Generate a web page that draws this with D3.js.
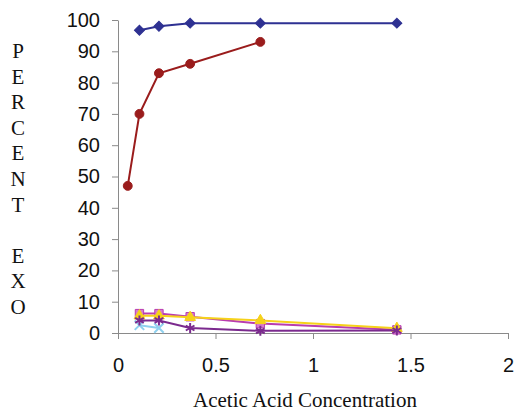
<!DOCTYPE html>
<html>
<head>
<meta charset="utf-8">
<script src="https://cdn.jsdelivr.net/npm/d3@7"></script>
<style>
  html, body { margin: 0; padding: 0; background: #fff; }
  svg { display: block; }
</style>
</head>
<body>
<svg id="chart" width="514" height="413"></svg>
<script>
// ---- data ----
const xTicks = [0, 0.5, 1, 1.5, 2];
const yTicks = [0, 10, 20, 30, 40, 50, 60, 70, 80, 90, 100];
const xTitle = "Acetic Acid Concentration";
const yTitle = "PERCENT EXO";

const navyX = [0.11, 0.21, 0.37, 0.73, 1.43];
const navyY = [96.7, 98, 99, 99, 99];

const magentaX = [0.11, 0.21, 0.37, 0.73, 1.43];
const magentaY = [6.2, 6.2, 5.2, 3, 1];

const yellowX = [0.11, 0.21, 0.37, 0.73, 1.43];
const yellowY = [5.5, 5.5, 5, 4, 1.5];

const cyanX = [0.11, 0.21];
const cyanY = [2.5, 1.6];

const purpleX = [0.11, 0.21, 0.37, 0.73, 1.43];
const purpleY = [4, 4, 1.6, 0.7, 0.8];

const maroonX = [0.05, 0.11, 0.21, 0.37, 0.73];
const maroonY = [47, 70, 83, 86, 93];

// ---- layout ----
const svg = d3.select("#chart");
const x = d3.scaleLinear().domain([0, 2]).range([118, 508]);
const y = d3.scaleLinear().domain([0, 100]).range([333, 20]);

const axisColor = "#8a8a8a";

// y axis
const gy = svg.append("g")
  .attr("transform", `translate(${x(0)},0)`)
  .call(d3.axisLeft(y).tickValues(yTicks).tickSize(6).tickPadding(12).tickSizeOuter(0));
// x axis
const gx = svg.append("g")
  .attr("transform", `translate(0,${y(0)})`)
  .call(d3.axisBottom(x).tickValues(xTicks).tickFormat(d3.format("")).tickSize(6).tickPadding(19).tickSizeOuter(0));

[gx, gy].forEach(g => {
  g.select(".domain").attr("stroke", axisColor).attr("stroke-width", 1);
  g.selectAll(".tick line").attr("stroke", axisColor).attr("stroke-width", 1);
  g.selectAll(".tick text")
    .attr("fill", "#111")
    .style("font-family", "'Liberation Sans', Arial, sans-serif")
    .style("font-size", "20px");
});

// titles
svg.append("text")
  .attr("x", 305).attr("y", 407)
  .attr("text-anchor", "middle")
  .style("font-family", "'Liberation Serif', 'Times New Roman', serif")
  .style("font-size", "21px")
  .attr("fill", "#111")
  .text(xTitle);

const yt = svg.append("text")
  .attr("text-anchor", "middle")
  .style("font-family", "'Liberation Serif', 'Times New Roman', serif")
  .style("font-size", "21px")
  .attr("fill", "#111");
yTitle.split("").forEach((ch, i) => {
  yt.append("tspan")
    .attr("x", 18)
    .attr("y", 51 + i * 25.6 + 7)
    .text(ch === " " ? "\u00a0" : ch);
});

// ---- series ----
const line = d3.line().x(d => x(d[0])).y(d => y(d[1]));
const zip = (a, b) => a.map((v, i) => [v, b[i]]);

const symTimes = d3.symbolTimes || d3.symbolX || d3.symbolCross;
const symAster = d3.symbolAsterisk || d3.symbolCross;

const series = [
  { xs: navyX, ys: navyY, color: "#2E3192", fill: "#2E3192", sym: d3.symbolSquare, size: 50, rot: 45, stroke: false },
  { xs: magentaX, ys: magentaY, color: "#B93CB0", fill: "#D77ACD", sym: d3.symbolSquare, size: 70, rot: 0, stroke: false },
  { xs: yellowX, ys: yellowY, color: "#F6D21A", fill: "#F6D21A", sym: d3.symbolTriangle, size: 50, rot: 0, stroke: false },
  { xs: cyanX, ys: cyanY, color: "#8FD0EE", fill: "none", sym: symTimes, size: 60, rot: 0, stroke: true },
  { xs: purpleX, ys: purpleY, color: "#7B2A8E", fill: "none", sym: symAster, size: 70, rot: 0, stroke: true },
  { xs: maroonX, ys: maroonY, color: "#9A1C1C", fill: "#9A1C1C", sym: d3.symbolCircle, size: 62, rot: 0, stroke: false }
];

series.forEach(s => {
  const pts = zip(s.xs, s.ys);
  const g = svg.append("g");
  g.append("path")
    .datum(pts)
    .attr("fill", "none")
    .attr("stroke", s.color)
    .attr("stroke-width", 2)
    .attr("d", line);
  g.selectAll("path.m")
    .data(pts)
    .join("path")
    .attr("class", "m")
    .attr("transform", d => `translate(${x(d[0])},${y(d[1])}) rotate(${s.rot})`)
    .attr("d", d3.symbol().type(s.sym).size(s.size))
    .attr("fill", s.stroke ? "none" : s.fill)
    .attr("stroke", s.color)
    .attr("stroke-width", s.stroke ? 2 : 1);
});
</script>
</body>
</html>
